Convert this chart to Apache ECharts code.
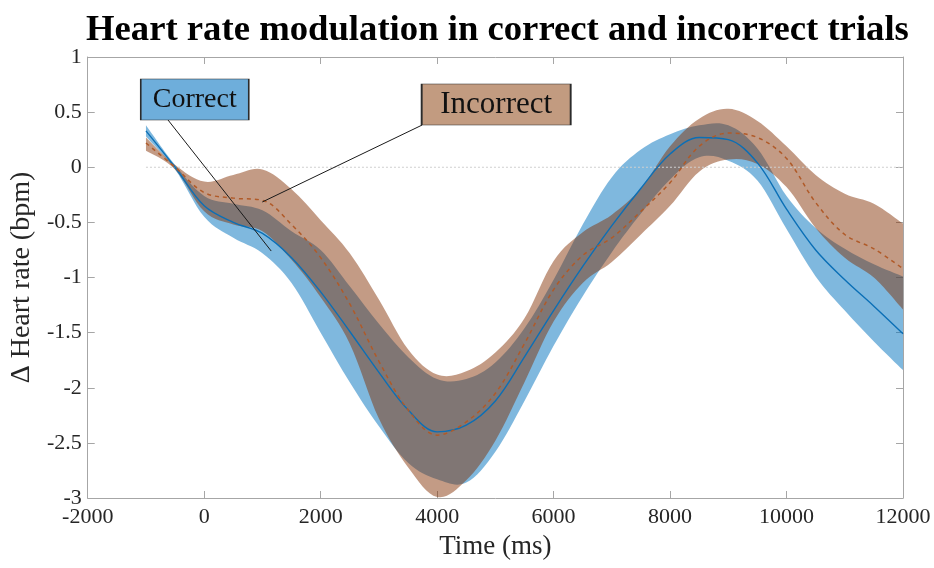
<!DOCTYPE html>
<html>
<head>
<meta charset="utf-8">
<script src="https://cdn.jsdelivr.net/npm/echarts@6/dist/echarts.min.js"></script>
<style>
html,body{margin:0;padding:0;background:#fff;}
#chart{width:934px;height:568px;}
</style>
</head>
<body>
<div id="chart"></div>
<script>
// ---- Data ----
var timeMs = [-1000,-500,0,500,1000,1500,2000,2500,3000,3500,4000,4500,5000,5500,6000,6500,7000,7500,8000,8500,9000,9500,10000,10500,11000,11500,12000];

var correctMean  = [0.33,0.00,-0.35,-0.50,-0.60,-0.82,-1.13,-1.49,-1.86,-2.20,-2.40,-2.34,-2.12,-1.72,-1.30,-0.90,-0.53,-0.19,0.12,0.27,0.25,0.04,-0.38,-0.75,-1.02,-1.26,-1.51];
var correctUpper = [0.38,0.02,-0.26,-0.33,-0.39,-0.58,-0.75,-1.08,-1.42,-1.72,-1.92,-1.92,-1.77,-1.46,-1.02,-0.52,-0.09,0.16,0.30,0.38,0.38,0.17,-0.26,-0.55,-0.74,-0.88,-0.99];
var correctLower = [0.28,-0.02,-0.45,-0.64,-0.78,-1.05,-1.50,-1.95,-2.35,-2.68,-2.83,-2.86,-2.58,-2.12,-1.62,-1.17,-0.77,-0.42,-0.11,0.09,0.06,-0.12,-0.56,-0.99,-1.30,-1.58,-1.84];

var incorrectMean  = [0.22,0.00,-0.23,-0.28,-0.30,-0.52,-0.82,-1.24,-1.76,-2.20,-2.43,-2.31,-2.05,-1.60,-1.11,-0.80,-0.64,-0.40,-0.14,0.19,0.31,0.27,0.08,-0.32,-0.61,-0.74,-0.92];
var incorrectUpper = [0.27,0.02,-0.13,-0.07,-0.02,-0.20,-0.48,-0.78,-1.20,-1.65,-1.88,-1.85,-1.68,-1.37,-0.85,-0.59,-0.43,-0.19,0.19,0.44,0.53,0.42,0.19,-0.07,-0.24,-0.33,-0.51];
var incorrectLower = [0.15,-0.02,-0.40,-0.52,-0.58,-0.84,-1.18,-1.60,-2.28,-2.72,-2.99,-2.84,-2.48,-1.95,-1.40,-1.05,-0.86,-0.61,-0.35,-0.04,0.07,0.03,-0.18,-0.55,-0.82,-1.00,-1.29];

var xTicks = [-2000,0,2000,4000,6000,8000,10000,12000];
var yTicks = [1,0.5,0,-0.5,-1,-1.5,-2,-2.5,-3];
var zeroLineX = [-1000, 12000];

var titleText = 'Heart rate modulation in correct and incorrect trials';
var xName = 'Time (ms)';
var yName = '\u0394 Heart rate (bpm)';
var annotLabels = ['Correct', 'Incorrect'];
var annotBoxAt = [[-162, 0.615], [5014, 0.569]];
var annotArrowFrom = [[-622, 0.429], [3743, 0.383]];
var annotArrowTo = [[1151, -0.76], [998, -0.315]];

// ---- Helpers ----
var SM = 0.35;   // smoothing shared by lines and band edges
function pairs(arr){ return timeMs.map(function(t,i){ return [t, arr[i]]; }); }

// smooth path segment (same style of control points as ECharts' line smoothing)
function curveTo(pts){
  var s = SM * 0.5, d = '';
  for (var i = 0; i < pts.length - 1; i++){
    var p0 = pts[Math.max(i-1,0)], p1 = pts[i], p2 = pts[i+1], p3 = pts[Math.min(i+2, pts.length-1)];
    var c1x = p1[0] + (p2[0]-p0[0])*s, c1y = p1[1] + (p2[1]-p0[1])*s;
    var c2x = p2[0] - (p3[0]-p1[0])*s, c2y = p2[1] - (p3[1]-p1[1])*s;
    d += ' C' + c1x.toFixed(2) + ' ' + c1y.toFixed(2) + ' ' + c2x.toFixed(2) + ' ' + c2y.toFixed(2) + ' ' + p2[0].toFixed(2) + ' ' + p2[1].toFixed(2);
  }
  return d;
}
function bandRenderer(upper, lower, fill){
  return function(params, api){
    if (params.dataIndex !== 0) return null;
    var up = timeMs.map(function(t,i){ return api.coord([t, upper[i]]); });
    var lo = timeMs.map(function(t,i){ return api.coord([t, lower[i]]); }).reverse();
    var d = 'M' + up[0][0].toFixed(2) + ' ' + up[0][1].toFixed(2) + curveTo(up)
          + ' L' + lo[0][0].toFixed(2) + ' ' + lo[0][1].toFixed(2) + curveTo(lo) + ' Z';
    return {type: 'path', shape: {pathData: d}, style: {fill: fill, stroke: null}, silent: true};
  };
}

var serif = 'Liberation Serif, Times New Roman, serif';
var axisGray = '#a6a6a6';

var chart = echarts.init(document.getElementById('chart'), null, {renderer:'canvas'});

function axisBase(extra){
  var o = {
    axisLine: {show: true, onZero: false, lineStyle: {color: axisGray, width: 1}},
    axisTick: {show: true, inside: true, length: 7, lineStyle: {color: axisGray}},
    splitLine: {show: false}
  };
  for (var k in extra) o[k] = extra[k];
  return o;
}

var option = {
  animation: false,
  backgroundColor: '#ffffff',
  title: {
    text: titleText,
    left: 81,
    top: 7,
    textStyle: {fontFamily: serif, fontWeight: 'bold', fontSize: 36.7, color: '#000'}
  },
  grid: {left: 82, right: 31, top: 57, bottom: 70, containLabel: false},
  xAxis: [
    axisBase({
      type: 'value', min: xTicks[0], max: xTicks[xTicks.length-1], interval: 2000, position: 'bottom',
      name: xName, nameLocation: 'middle', nameGap: 35,
      nameTextStyle: {fontFamily: serif, fontSize: 27, color: '#262626'},
      axisLabel: {fontFamily: serif, fontSize: 22, color: '#262626', margin: 8,
        formatter: function(v){ return String(v); }}
    }),
    axisBase({
      type: 'value', min: xTicks[0], max: xTicks[xTicks.length-1], interval: 2000, position: 'top',
      axisLabel: {show: false}
    })
  ],
  yAxis: [
    axisBase({
      type: 'value', min: yTicks[yTicks.length-1], max: yTicks[0], interval: 0.5, position: 'left',
      name: yName, nameLocation: 'middle', nameGap: 46,
      nameTextStyle: {fontFamily: serif, fontSize: 28, color: '#262626'},
      axisLabel: {fontFamily: serif, fontSize: 22, color: '#262626', margin: 6,
        formatter: function(v){ return String(v); }}
    }),
    axisBase({
      type: 'value', min: yTicks[yTicks.length-1], max: yTicks[0], interval: 0.5, position: 'right',
      axisLabel: {show: false}
    })
  ],
  series: [
    {
      name: 'zero', type: 'line', data: zeroLineX.map(function(x){ return [x, 0]; }),
      symbol: 'none', silent: true,
      lineStyle: {color: '#cfcfcf', width: 1, type: [2, 2]}
    },
    {
      name: 'Correct band', type: 'custom', data: pairs(correctUpper),
      encode: {x: 0, y: 1}, silent: true,
      renderItem: bandRenderer(correctUpper, correctLower, 'rgba(0,114,189,0.5)')
    },
    {
      name: 'Correct', type: 'line', data: pairs(correctMean),
      smooth: SM, symbol: 'none', silent: true,
      lineStyle: {color: '#0b6fb6', width: 1.4}
    },
    {
      name: 'Incorrect band', type: 'custom', data: pairs(incorrectUpper),
      encode: {x: 0, y: 1}, silent: true,
      renderItem: bandRenderer(incorrectUpper, incorrectLower, 'rgba(129,45,0,0.48)')
    },
    {
      name: 'Incorrect', type: 'line', data: pairs(incorrectMean),
      smooth: SM, symbol: 'none', silent: true,
      lineStyle: {color: '#b05a28', width: 1.5, type: [4, 4]},
      markLine: {
        silent: true, animation: false,
        symbol: ['none', 'arrow'], symbolSize: [0, 11],
        label: {show: false},
        lineStyle: {color: '#1a1a1a', width: 1, type: 'solid'},
        data: annotArrowFrom.map(function(p, i){ return [{coord: p}, {coord: annotArrowTo[i]}]; })
      },
      markPoint: {
        silent: true, animation: false,
        symbol: 'rect',
        data: [
          {coord: annotBoxAt[0], symbolSize: [108, 41],
           itemStyle: {color: '#6eaedb', borderColor: '#2b2b2b', borderWidth: 1},
           label: {show: true, position: 'inside', formatter: annotLabels[0], fontFamily: serif, fontSize: 28, color: '#111'}},
          {coord: annotBoxAt[1], symbolSize: [149, 41],
           itemStyle: {color: '#c29b80', borderColor: '#2b2b2b', borderWidth: 1},
           label: {show: true, position: 'inside', formatter: annotLabels[1], fontFamily: serif, fontSize: 31, color: '#111'}}
        ]
      }
    }
  ]
};
chart.setOption(option);
</script>
</body>
</html>
